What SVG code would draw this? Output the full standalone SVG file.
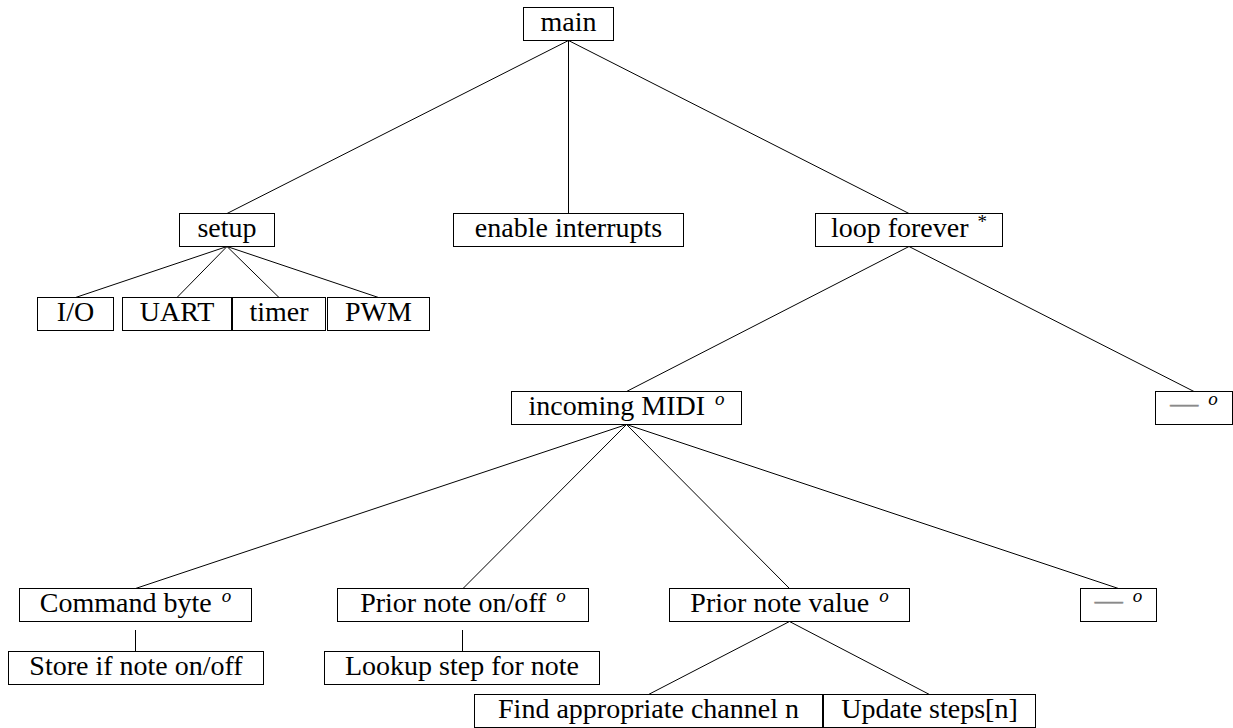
<svg xmlns="http://www.w3.org/2000/svg" width="1233" height="728" viewBox="0 0 1233 728">
<style>
  .box { fill: #ffffff; stroke: #000000; stroke-width: 1; }
  .lbl { font-size: 28px; fill: #000000; text-anchor: middle; }
  .sup { font-size: 19px; font-style: italic; }
  .ast { font-size: 19px; }
  .dash { fill: #8a8a8a; stroke: #8a8a8a; stroke-width: 0.5; }
  .edge { stroke: #000000; stroke-width: 1; fill: none; }
</style>
<rect x="0" y="0" width="1233" height="728" fill="#ffffff"/>

<g id="connectors">
  <line class="edge" x1="568.5" y1="40.5" x2="227" y2="213.5"/>
  <line class="edge" x1="568.5" y1="40.5" x2="568.5" y2="213.5"/>
  <line class="edge" x1="568.5" y1="40.5" x2="909" y2="213.5"/>
  <line class="edge" x1="227" y1="246.5" x2="75.5" y2="297.5"/>
  <line class="edge" x1="227" y1="246.5" x2="177" y2="297.5"/>
  <line class="edge" x1="227" y1="246.5" x2="279" y2="297.5"/>
  <line class="edge" x1="227" y1="246.5" x2="378.5" y2="297.5"/>
  <line class="edge" x1="909" y1="246.5" x2="626.5" y2="391.5"/>
  <line class="edge" x1="909" y1="246.5" x2="1194" y2="391.5"/>
  <line class="edge" x1="626.5" y1="424.5" x2="135.5" y2="588.5"/>
  <line class="edge" x1="626.5" y1="424.5" x2="463" y2="588.5"/>
  <line class="edge" x1="626.5" y1="424.5" x2="789.5" y2="588.5"/>
  <line class="edge" x1="626.5" y1="424.5" x2="1118.5" y2="588.5"/>
  <line class="edge" x1="135.5" y1="630" x2="135.5" y2="651.5"/>
  <line class="edge" x1="462.5" y1="630" x2="462.5" y2="651.5"/>
  <line class="edge" x1="789.5" y1="621.5" x2="648.5" y2="694.5"/>
  <line class="edge" x1="789.5" y1="621.5" x2="929.5" y2="694.5"/>
</g>

<g id="nodes" font-family="Liberation Serif, Tinos, DejaVu Serif, Times New Roman, serif">
<g id="node-main">
  <rect class="box" x="523.5" y="7.5" width="90" height="33"/>
  <text class="lbl" x="568.5" y="31">main</text>
</g>
<g id="node-setup">
  <rect class="box" x="179.5" y="213.5" width="95" height="33"/>
  <text class="lbl" x="227" y="237">setup</text>
</g>
<g id="node-enable">
  <rect class="box" x="453.5" y="213.5" width="230" height="33"/>
  <text class="lbl" x="568.5" y="237">enable interrupts</text>
</g>
<g id="node-loop">
  <rect class="box" x="815.5" y="213.5" width="187" height="33"/>
  <text class="lbl" x="909" y="237">loop forever <tspan class="ast" dx="2" dy="-9">*</tspan></text>
</g>
<g id="node-io">
  <rect class="box" x="37.5" y="297.5" width="76" height="33"/>
  <text class="lbl" x="75.5" y="321">I/O</text>
</g>
<g id="node-uart">
  <rect class="box" x="122.5" y="297.5" width="109" height="33"/>
  <text class="lbl" x="177" y="321">UART</text>
</g>
<g id="node-timer">
  <rect class="box" x="232.5" y="297.5" width="93" height="33"/>
  <text class="lbl" x="279" y="321">timer</text>
</g>
<g id="node-pwm">
  <rect class="box" x="327.5" y="297.5" width="102" height="33"/>
  <text class="lbl" x="378.5" y="321">PWM</text>
</g>
<g id="node-midi">
  <rect class="box" x="511.5" y="391.5" width="230" height="33"/>
  <text class="lbl" x="626.5" y="415">incoming MIDI <tspan class="sup" dx="3" dy="-10">o</tspan></text>
</g>
<g id="node-loop-other">
  <rect class="box" x="1155.5" y="391.5" width="77" height="33"/>
  <text class="lbl" x="1194" y="415"><tspan class="dash" dy="-3">—</tspan> <tspan class="sup" dx="3" dy="-7">o</tspan></text>
</g>
<g id="node-command">
  <rect class="box" x="19.5" y="588.5" width="232" height="33"/>
  <text class="lbl" x="135.5" y="612">Command byte <tspan class="sup" dx="3" dy="-10">o</tspan></text>
</g>
<g id="node-prior-onoff">
  <rect class="box" x="337.5" y="588.5" width="251" height="33"/>
  <text class="lbl" x="463" y="612">Prior note on/off <tspan class="sup" dx="3" dy="-10">o</tspan></text>
</g>
<g id="node-prior-value">
  <rect class="box" x="669.5" y="588.5" width="240" height="33"/>
  <text class="lbl" x="789.5" y="612">Prior note value <tspan class="sup" dx="3" dy="-10">o</tspan></text>
</g>
<g id="node-midi-other">
  <rect class="box" x="1080.5" y="588.5" width="76" height="33"/>
  <text class="lbl" x="1118.5" y="612"><tspan class="dash" dy="-3">—</tspan> <tspan class="sup" dx="3" dy="-7">o</tspan></text>
</g>
<g id="node-store">
  <rect class="box" x="8.5" y="651.5" width="255" height="33"/>
  <text class="lbl" x="136" y="675">Store if note on/off</text>
</g>
<g id="node-lookup">
  <rect class="box" x="324.5" y="651.5" width="275" height="33"/>
  <text class="lbl" x="462" y="675">Lookup step for note</text>
</g>
<g id="node-find">
  <rect class="box" x="474.5" y="694.5" width="348" height="33"/>
  <text class="lbl" x="648.5" y="718">Find appropriate channel n</text>
</g>
<g id="node-update">
  <rect class="box" x="823.5" y="694.5" width="212" height="33"/>
  <text class="lbl" x="929.5" y="718">Update steps[n]</text>
</g>
</g>
</svg>
